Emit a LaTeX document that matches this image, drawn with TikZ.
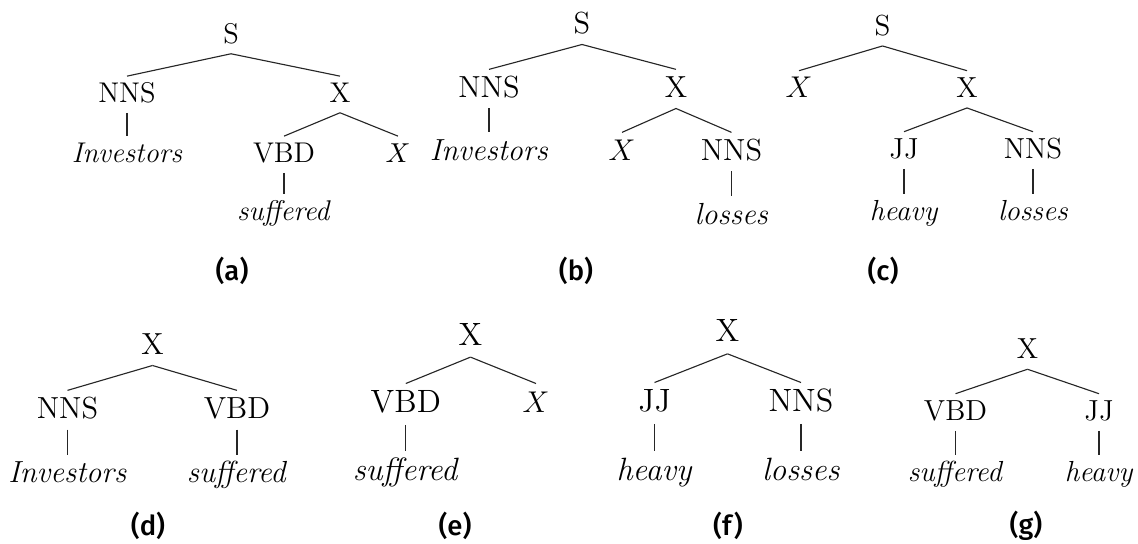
\documentclass[tikz,border=0pt]{standalone}
\usepackage{fontspec}
\setsansfont{Fira Sans}
\newfontfamily\capfont{Fira Sans Medium}
\tikzset{
  tn/.style={anchor=base, font=\fontsize{#1}{#1}\selectfont, inner sep=0.21*#1pt,
             text height=0.68*#1pt, text depth=0.15*#1pt},
  ed/.style={line width=0.45pt, draw=black!85},
  capt/.style={font=\capfont\fontsize{11}{13}\selectfont, inner sep=0pt}
}
\begin{document}
\begin{tikzpicture}[x=0.4pt, y=-0.4pt]
\useasboundingbox (0,0) rectangle (1138,543);
% (a)
\node[tn=11.4] (aS) at (231,43) {S};
\node[tn=11.4] (aN) at (127,102) {NNS};
\node[tn=11.4] (aX) at (340,102) {X};
\node[tn=11.4] (aI) at (127,162) {\textit{Investors}};
\node[tn=11.4] (aV) at (284,162) {VBD};
\node[tn=11.4] (aX2) at (398,162) {$X$};
\node[tn=11.4] (as) at (284,220) {\textit{suffered}};
\node[capt] (acap) at (232,271) {(a)};
\draw[ed] (aS.south) -- (aN.north);
\draw[ed] (aS.south) -- (aX.north);
\draw[ed] (aN.south) -- (aI.north);
\draw[ed] (aX.south) -- (aV.north);
\draw[ed] (aX.south) -- (aX2.north);
\draw[ed] (aV.south) -- (as.north);
% (b)
\node[tn=12.2] (bS) at (582,33) {S};
\node[tn=12.2] (bN) at (489,97) {NNS};
\node[tn=12.2] (bX) at (676,97) {X};
\node[tn=12.2] (bI) at (489,160) {\textit{Investors}};
\node[tn=12.2] (bX2) at (622,160) {$X$};
\node[tn=12.2] (bN2) at (731.5,160) {NNS};
\node[tn=12.2] (bl) at (731.5,224) {\textit{losses}};
\node[capt] (bcap) at (576,271) {(b)};
\draw[ed] (bS.south) -- (bN.north);
\draw[ed] (bS.south) -- (bX.north);
\draw[ed] (bN.south) -- (bI.north);
\draw[ed] (bX.south) -- (bX2.north);
\draw[ed] (bX.south) -- (bN2.north);
\draw[ed] (bN2.south) -- (bl.north);
% (c)
\node[tn=11.6] (cS) at (882.5,35) {S};
\node[tn=11.6] (cX) at (799,97) {$X$};
\node[tn=11.6] (cX2) at (967,97) {X};
\node[tn=11.6] (cJ) at (904,158) {JJ};
\node[tn=11.6] (cN) at (1033,158) {NNS};
\node[tn=11.6] (ch) at (904,220) {\textit{heavy}};
\node[tn=11.6] (cl) at (1033,220) {\textit{losses}};
\node[capt] (ccap) at (883,271) {(c)};
\draw[ed] (cS.south) -- (cX.north);
\draw[ed] (cS.south) -- (cX2.north);
\draw[ed] (cX2.south) -- (cJ.north);
\draw[ed] (cX2.south) -- (cN.north);
\draw[ed] (cJ.south) -- (ch.north);
\draw[ed] (cN.south) -- (cl.north);
% (d)
\node[tn=12.2] (dX) at (152.5,354) {X};
\node[tn=12.2] (dN) at (67.5,418) {NNS};
\node[tn=12.2] (dV) at (237,418) {VBD};
\node[tn=12.2] (dI) at (67.5,482.5) {\textit{Investors}};
\node[tn=12.2] (ds) at (237,482.5) {\textit{suffered}};
\node[capt] (dcap) at (148,526) {(d)};
\draw[ed] (dX.south) -- (dN.north);
\draw[ed] (dX.south) -- (dV.north);
\draw[ed] (dN.south) -- (dI.north);
\draw[ed] (dV.south) -- (ds.north);
% (e)
\node[tn=12.9] (eX) at (470.5,345) {X};
\node[tn=12.9] (eV) at (405.8,412.7) {VBD};
\node[tn=12.9] (eX2) at (536,412.7) {$X$};
\node[tn=12.9] (es) at (405.8,480) {\textit{suffered}};
\node[capt] (ecap) at (455,526) {(e)};
\draw[ed] (eX.south) -- (eV.north);
\draw[ed] (eX.south) -- (eX2.north);
\draw[ed] (eV.south) -- (es.north);
% (f)
\node[tn=12.9] (fX) at (727.5,341.7) {X};
\node[tn=12.9] (fJ) at (654.5,411.7) {JJ};
\node[tn=12.9] (fN) at (801,411.7) {NNS};
\node[tn=12.9] (fh) at (654.5,480.5) {\textit{heavy}};
\node[tn=12.9] (fl) at (801,480.5) {\textit{losses}};
\node[capt] (fcap) at (728,526) {(f)};
\draw[ed] (fX.south) -- (fJ.north);
\draw[ed] (fX.south) -- (fN.north);
\draw[ed] (fJ.south) -- (fh.north);
\draw[ed] (fN.south) -- (fl.north);
% (g)
\node[tn=11.6] (gX) at (1027.5,358.3) {X};
\node[tn=11.6] (gV) at (955.5,420) {VBD};
\node[tn=11.6] (gJ) at (1099,420) {JJ};
\node[tn=11.6] (gs) at (955.5,481) {\textit{suffered}};
\node[tn=11.6] (gh) at (1099,481) {\textit{heavy}};
\node[capt] (gcap) at (1026,526) {(g)};
\draw[ed] (gX.south) -- (gV.north);
\draw[ed] (gX.south) -- (gJ.north);
\draw[ed] (gV.south) -- (gs.north);
\draw[ed] (gJ.south) -- (gh.north);
\end{tikzpicture}
\end{document}
